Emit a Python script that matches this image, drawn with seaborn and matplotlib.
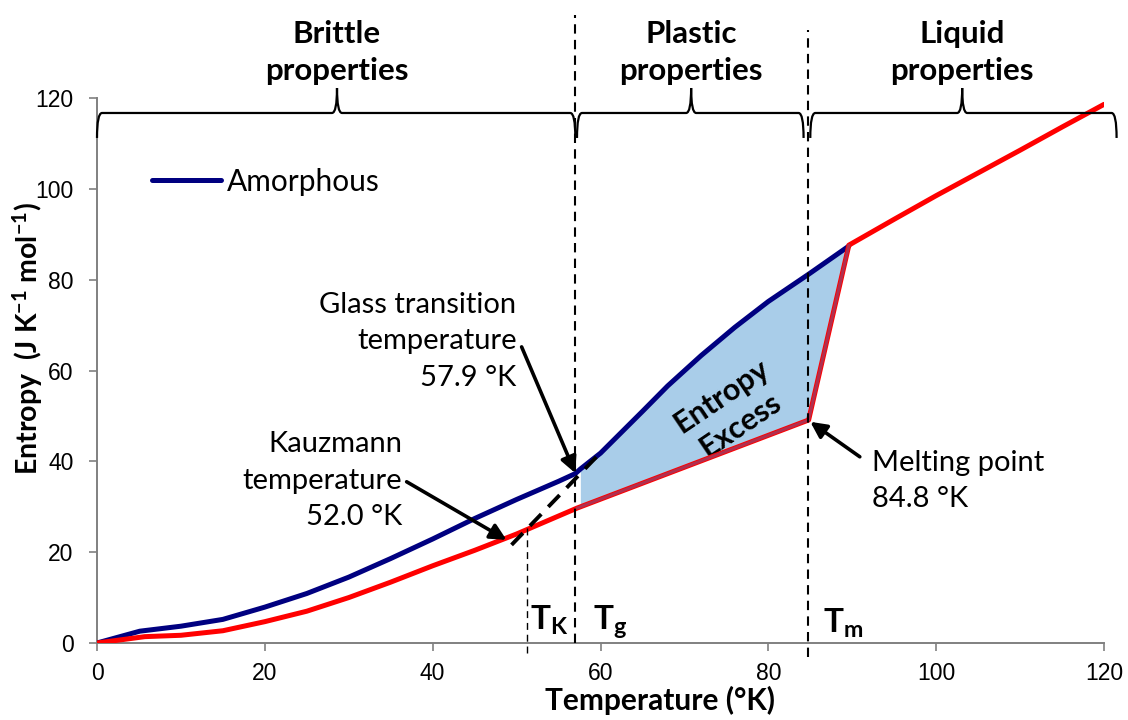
import numpy as np
import pandas as pd
import matplotlib
matplotlib.use("Agg")
import matplotlib.pyplot as plt
import seaborn as sns
from matplotlib.path import Path
from matplotlib.patches import PathPatch

# ---------------- data ----------------
temp_amorphous = [0, 5.1, 10, 15, 20, 25, 30, 35, 40, 45, 50, 55, 57.0, 57.6,
                  60, 65, 68, 72, 76, 80, 84.8, 89.6]
entropy_amorphous = [0, 2.6, 3.7, 5.2, 7.9, 10.9, 14.5, 18.6, 22.9, 27.4, 31.6, 35.6, 37.3, 38.3,
                     41.8, 51.0, 56.6, 63.3, 69.5, 75.2, 81.2, 87.4]

temp_crystal = [0, 5.7, 10, 15, 20, 25, 30, 35, 40, 45, 50, 57.2, 84.8,
                89.6, 95, 100, 105, 110, 115, 120]
entropy_crystal = [0, 1.4, 1.7, 2.7, 4.7, 7.0, 10.0, 13.4, 17.0, 20.4, 24.0, 29.7, 49.1,
                   87.6, 93.3, 98.5, 103.5, 108.5, 113.6, 118.6]

t_kauzmann = 51.3
t_glass = 57.0
t_melt = 84.7
extrap_x = [49.4, 60.0]
extrap_y = [21.6, 41.9]

regions = ["Brittle\nproperties", "Plastic\nproperties", "Liquid\nproperties"]
region_spans = [(0.0, 57.0), (57.2, 84.2), (85.0, 121.5)]
region_tips = [28.6, 70.8, 103.1]

x_ticks = [0, 20, 40, 60, 80, 100, 120]
y_ticks = [0, 20, 40, 60, 80, 100, 120]

df_am = pd.DataFrame({"T": temp_amorphous, "S": entropy_amorphous})
df_cr = pd.DataFrame({"T": temp_crystal, "S": entropy_crystal})

# ---------------- style ----------------
sns.set_style("ticks")
plt.rcParams["font.family"] = ["Lato", "DejaVu Sans"]
plt.rcParams["text.color"] = "black"
plt.rcParams["axes.labelcolor"] = "black"
plt.rcParams["mathtext.fontset"] = "custom"
plt.rcParams["mathtext.rm"] = "Lato"
plt.rcParams["mathtext.bf"] = "Lato:bold"
plt.rcParams["mathtext.it"] = "Lato:italic"

fig = plt.figure(figsize=(11.28, 7.2), dpi=100)
ax = fig.add_axes([97 / 1128, 1 - 643 / 720, 1007 / 1128, 545 / 720])

BLUE = "#000080"
RED = "#ff0000"
FILL = "#a9cde9"

# fill between amorphous and crystalline in the supercooled region
fx = np.union1d(np.array(temp_amorphous), np.array(temp_crystal))
fx = fx[(fx >= 57.6) & (fx <= 89.6)]
upper = np.interp(fx, temp_amorphous, entropy_amorphous)
lower = np.interp(fx, temp_crystal, entropy_crystal)
ax.fill_between(fx, lower, upper, color=FILL, lw=0, zorder=1)

sns.lineplot(data=df_am, x="T", y="S", ax=ax, color=BLUE, lw=3.6, sort=False,
             estimator=None, label="Amorphous", zorder=3)
sns.lineplot(data=df_cr, x="T", y="S", ax=ax, color=RED, lw=3.6, sort=False,
             estimator=None, label="_crystal", zorder=4)
df_edge = df_cr[(df_cr["T"] >= 57.2) & (df_cr["T"] <= 89.6)]
sns.lineplot(data=df_edge, x="T", y="S", ax=ax, color="#b0304f", lw=2.2, sort=False,
             estimator=None, label="_edge", zorder=4.5)

# extrapolated glass line (dashed black)
ax.plot(extrap_x, extrap_y, color="black", lw=2.8, dashes=(4.2, 2.6), zorder=6,
        solid_capstyle="butt", dash_capstyle="butt")

# vertical dashed lines
ax.plot([t_glass, t_glass], [0, 138.3], color="black", lw=1.5, dashes=(4.5, 3),
        clip_on=False, zorder=5)
ax.plot([t_melt, t_melt], [-3.1, 135.0], color="black", lw=1.5, dashes=(4.5, 3),
        clip_on=False, zorder=5)
ax.plot([t_kauzmann, t_kauzmann], [-2.2, 25.8], color="black", lw=1.0, dashes=(5, 3.5),
        clip_on=False, zorder=5)

# T labels
ax.text(51.6, 2.9, r"$\mathbf{T_K}$", fontsize=24, ha="left", va="baseline")
ax.text(59.1, 2.9, r"$\mathbf{T_g}$", fontsize=24, ha="left", va="baseline")
ax.text(86.5, 2.2, r"$\mathbf{T_m}$", fontsize=24, ha="left", va="baseline")

# braces
def brace(x0, x1, xm, yb=116.7, h=5.5, w=0.6):
    verts = [(x0, yb - h), (x0, yb), (x0 + w, yb), (xm - w, yb),
             (xm, yb), (xm, yb + h), (xm, yb), (xm + w, yb),
             (x1 - w, yb), (x1, yb), (x1, yb - h)]
    codes = [Path.MOVETO, Path.CURVE3, Path.CURVE3, Path.LINETO,
             Path.CURVE3, Path.CURVE3, Path.CURVE3, Path.CURVE3,
             Path.LINETO, Path.CURVE3, Path.CURVE3]
    return PathPatch(Path(verts, codes), fill=False, lw=1.6, color="black",
                     clip_on=False, zorder=5)

for (a, b), tip, lab in zip(region_spans, region_tips, regions):
    ax.add_patch(brace(a, b, tip))
    ax.text(tip, 122.8, lab, fontsize=22.5, fontweight="bold", ha="center",
            va="bottom", linespacing=1.42, multialignment="center")

# annotations
arrow_kw = dict(arrowstyle="-|>", lw=2.6, color="black", mutation_scale=24,
                shrinkA=0, shrinkB=0)
ax.annotate("", xy=(57.0, 37.4), xytext=(50.6, 65.2), arrowprops=arrow_kw, zorder=7)
ax.annotate("", xy=(48.8, 22.7), xytext=(36.9, 35.5), arrowprops=arrow_kw, zorder=7)
ax.annotate("", xy=(85.0, 48.7), xytext=(90.9, 41.0), arrowprops=arrow_kw, zorder=7)

ax.text(50.0, 66.4, "Glass transition\ntemperature\n57.9 °K", fontsize=21,
        ha="right", va="center", multialignment="right", linespacing=1.5)
ax.text(36.4, 35.7, "Kauzmann\ntemperature\n52.0 °K", fontsize=21,
        ha="right", va="center", multialignment="right", linespacing=1.5)
ax.text(92.4, 35.7, "Melting point\n84.8 °K", fontsize=21,
        ha="left", va="center", multialignment="left", linespacing=1.5)

ax.text(75.6, 51.2, "Entropy\nExcess", fontsize=22, fontweight="bold", rotation=34,
        ha="center", va="center", rotation_mode="anchor", linespacing=1.25)

# axes
ax.set_xlim(0, 120)
ax.set_ylim(0, 120)
ax.set_xticks(x_ticks)
ax.set_yticks(y_ticks)
ax.set_xticklabels([str(v) for v in x_ticks])
ax.set_yticklabels([str(v) for v in y_ticks])
for sp in ["top", "right"]:
    ax.spines[sp].set_visible(False)
for sp in ["left", "bottom"]:
    ax.spines[sp].set_color("#808080")
    ax.spines[sp].set_linewidth(1.4)
ax.tick_params(axis="both", direction="out", length=6, width=1.2, color="#808080",
               labelsize=16.5, labelcolor="black")
ax.tick_params(axis="y", pad=11)
ax.tick_params(axis="x", pad=8)
for lab in ax.get_xticklabels() + ax.get_yticklabels():
    lab.set_fontfamily("Liberation Sans")

ax.set_xlabel("Temperature (°K)", fontsize=21.5, fontweight="bold", va="center")
ax.xaxis.set_label_coords(0.559, -0.105)
ax.set_ylabel(r"Entropy  (J K$^{\mathbf{-1}}$ mol$^{\mathbf{-1}}$)", fontsize=20.5,
              fontweight="bold", va="center")
ax.yaxis.set_label_coords(-0.069, 0.558)

# legend (amorphous only)
h, l = ax.get_legend_handles_labels()
keep = [(hh, ll) for hh, ll in zip(h, l) if ll == "Amorphous"]
leg = ax.legend([k[0] for k in keep], [k[1] for k in keep], loc="center left",
                bbox_to_anchor=(0.0546, 0.846), frameon=False, fontsize=21.5,
                handlelength=2.3, handletextpad=0.2, borderpad=0, borderaxespad=0)

fig.savefig("out.png", dpi=100)
